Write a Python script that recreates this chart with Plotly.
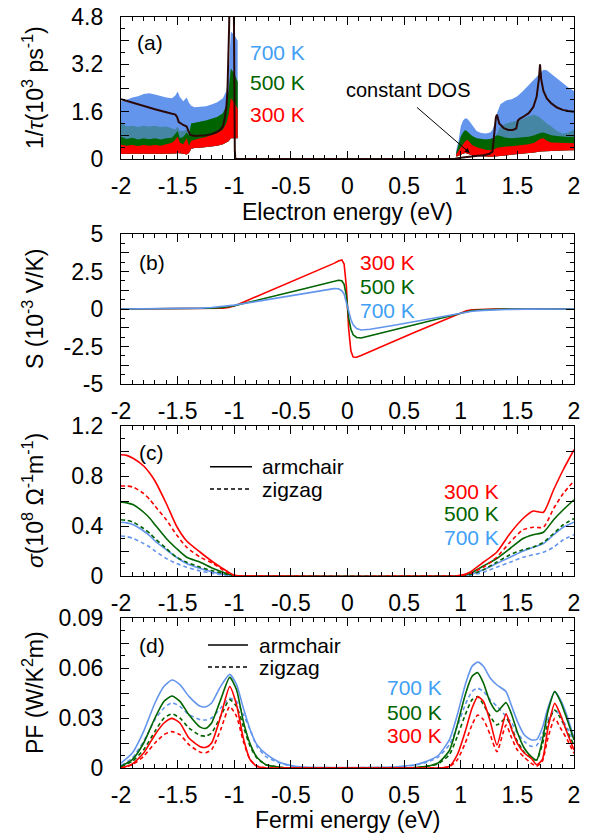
import plotly.graph_objects as go

# ---------------- data ----------------
# x tick labels
x_tickvals = [-2, -1.5, -1, -0.5, 0, 0.5, 1, 1.5, 2]
x_ticktext = ["-2", "-1.5", "-1", "-0.5", "0", "0.5", "1", "1.5", "2"]

ya_tickvals = [0, 0.8, 1.6, 2.4, 3.2, 4.0, 4.8]
ya_ticktext = ["0", "", "1.6", "", "3.2", "", "4.8"]
yb_tickvals = [-5, -3.75, -2.5, -1.25, 0, 1.25, 2.5, 3.75, 5]
yb_ticktext = ["-5", "", "-2.5", "", "0", "", "2.5", "", "5"]
yc_tickvals = [0, 0.2, 0.4, 0.6, 0.8, 1.0, 1.2]
yc_ticktext = ["0", "", "0.4", "", "0.8", "", "1.2"]
yd_tickvals = [0, 0.015, 0.03, 0.045, 0.06, 0.075, 0.09]
yd_ticktext = ["0", "", "0.03", "", "0.06", "", "0.09"]

# (a) scattering-rate bands, left (valence) side
xl = [-2.0, -1.95, -1.9, -1.85, -1.8, -1.75, -1.7, -1.65, -1.6, -1.55, -1.52, -1.5, -1.48, -1.45,
      -1.42, -1.4, -1.38, -1.35, -1.3, -1.25, -1.2, -1.15, -1.1, -1.07, -1.05, -1.03, -1.0, -0.97]
blue_up_l = [1.95, 2.0, 2.08, 2.12, 2.2, 2.22, 2.18, 2.12, 2.08, 2.05, 2.15, 2.28, 2.1, 1.95,
             2.08, 1.9, 1.8, 1.75, 1.76, 1.78, 1.84, 1.92, 2.05, 2.3, 2.8, 4.3, 4.2, 4.0]
speck_up_l = [1.25, 1.1, 1.12, 1.08, 1.12, 1.1, 1.12, 1.08, 1.1, 1.05, 1.0, 1.1, 0.95, 0.95,
              1.0, 0.95, 1.2, 1.22, 1.25, 1.3, 1.36, 1.42, 1.55, 1.8, 2.3, 3.05, 2.9, 2.6]
green_up_l = [0.75, 0.68, 0.72, 0.66, 0.7, 0.67, 0.7, 0.66, 0.7, 0.72, 0.85, 0.95, 0.7, 0.75,
              0.9, 0.8, 1.2, 1.22, 1.25, 1.3, 1.36, 1.42, 1.55, 1.8, 2.3, 3.05, 2.9, 2.6]
red_up_l = [0.48, 0.45, 0.47, 0.44, 0.47, 0.45, 0.47, 0.45, 0.5, 0.55, 0.65, 0.75, 0.55, 0.5,
            0.7, 0.45, 0.62, 0.66, 0.7, 0.74, 0.8, 0.88, 1.0, 1.2, 1.5, 2.05, 1.9, 1.7]
band_low_l = [0.17, 0.18, 0.18, 0.17, 0.18, 0.18, 0.17, 0.18, 0.18, 0.18, 0.19, 0.2, 0.2, 0.18,
              0.15, 0.2, 0.35, 0.37, 0.38, 0.4, 0.42, 0.45, 0.5, 0.55, 0.6, 0.7, 0.7, 0.7]

# (a) bands, right (conduction) side
xr = [0.96, 0.98, 1.0, 1.02, 1.04, 1.06, 1.08, 1.1, 1.14, 1.18, 1.22, 1.26, 1.28, 1.3, 1.32,
      1.35, 1.4, 1.45, 1.5, 1.55, 1.6, 1.65, 1.7, 1.73, 1.76, 1.8, 1.85, 1.9, 1.95, 2.0]
blue_up_r = [0.3, 0.6, 1.1, 1.3, 1.38, 1.35, 1.26, 1.15, 0.95, 0.88, 0.86, 0.9, 0.98, 1.2, 1.55,
             1.85, 1.98, 2.02, 2.12, 2.3, 2.5, 2.7, 2.9, 3.02, 3.0, 2.88, 2.72, 2.55, 2.42, 2.3]
speck_up_r = [0.2, 0.5, 0.75, 0.9, 0.98, 0.92, 0.85, 0.78, 0.7, 0.67, 0.66, 0.68, 0.7, 0.75, 0.85,
              1.1, 1.2, 1.25, 1.3, 1.35, 1.45, 1.5, 1.4, 1.3, 1.2, 1.1, 0.95, 0.85, 0.9, 1.0]
green_up_r = [0.2, 0.5, 0.75, 0.9, 0.98, 0.92, 0.85, 0.78, 0.7, 0.67, 0.66, 0.68, 0.7, 0.75, 0.8,
              0.78, 0.72, 0.7, 0.72, 0.72, 0.75, 0.8, 0.88, 0.9, 0.85, 0.8, 0.78, 0.75, 0.74, 0.75]
red_up_r = [0.15, 0.3, 0.4, 0.5, 0.6, 0.65, 0.55, 0.47, 0.4, 0.35, 0.31, 0.3, 0.31, 0.34, 0.38,
            0.4, 0.42, 0.43, 0.45, 0.46, 0.5, 0.55, 0.68, 0.7, 0.62, 0.56, 0.55, 0.54, 0.53, 0.53]
band_low_r = [0.08, 0.1, 0.15, 0.18, 0.2, 0.18, 0.15, 0.13, 0.1, 0.09, 0.08, 0.08, 0.08, 0.09, 0.1,
              0.11, 0.12, 0.13, 0.15, 0.17, 0.2, 0.22, 0.25, 0.26, 0.27, 0.27, 0.28, 0.29, 0.3, 0.3]

# (a) constant-DOS curve
dos_x = [-2.0, -1.9, -1.8, -1.7, -1.6, -1.52, -1.505, -1.49, -1.45, -1.42, -1.405, -1.39, -1.35,
         -1.3, -1.25, -1.2, -1.15, -1.12, -1.1, -1.085, -1.07, -1.06, -1.05, -1.045, -1.04, -1.02,
         -1.005, -1.0, -0.995, -0.99, 0.9, 0.95, 1.0, 1.05, 1.1, 1.15, 1.2, 1.25, 1.28, 1.295, 1.31,
         1.32, 1.34, 1.38, 1.42, 1.46, 1.49, 1.505, 1.52, 1.55, 1.6, 1.64, 1.67, 1.69, 1.70, 1.71,
         1.73, 1.76, 1.8, 1.85, 1.9, 1.95, 2.0]
dos_y = [2.02, 1.9, 1.78, 1.68, 1.58, 1.5, 1.42, 1.25, 1.15, 1.1, 0.95, 0.82, 0.78,
         0.78, 0.8, 0.84, 0.92, 1.0, 1.1, 1.35, 1.75, 2.3, 3.5, 4.5, 6.0, 8.0,
         6.0, 2.0, 0.3, 0.0, 0.0, 0.01, 0.04, 0.07, 0.09, 0.11, 0.13, 0.17, 0.25, 0.8, 1.4,
         1.5, 1.2, 1.04, 0.98, 0.98, 1.03, 1.3, 1.36, 1.42, 1.55, 1.75, 2.1, 2.7, 3.2, 2.7,
         2.3, 2.05, 1.88, 1.74, 1.66, 1.62, 1.6]

# (b) Seebeck coefficient
s_x = [-2.0, -1.6, -1.4, -1.3, -1.2, -1.1, -1.05, -1.0, -0.9, -0.8, -0.6, -0.4, -0.2, -0.12,
       -0.08, -0.05, -0.03, -0.01, 0.01, 0.03, 0.05, 0.08, 0.12, 0.2, 0.4, 0.6, 0.8, 0.9, 1.0,
       1.05, 1.1, 1.2, 1.3, 1.4, 1.6, 2.0]
s_300 = [0, 0, 0, 0, 0.01, 0.05, 0.1, 0.2, 0.52, 0.84, 1.49, 2.13, 2.78, 3.04,
         3.2, 3.27, 3.0, 1.5, -1.3, -2.8, -3.2, -3.22, -3.1, -2.83, -2.19, -1.54, -0.89, -0.57, -0.24,
         -0.12, -0.05, -0.01, 0, 0, 0, 0]
s_500 = [0, 0, 0.005, 0.02, 0.05, 0.1, 0.15, 0.22, 0.4, 0.57, 0.95, 1.32, 1.7, 1.85,
         1.92, 1.88, 1.65, 0.9, -0.6, -1.35, -1.72, -1.9, -1.93, -1.78, -1.4, -1.02, -0.63, -0.43, -0.24,
         -0.16, -0.1, -0.05, -0.02, -0.005, 0, 0]
s_700 = [0, 0.01, 0.03, 0.06, 0.1, 0.17, 0.21, 0.26, 0.38, 0.5, 0.75, 1.0, 1.25, 1.36,
         1.35, 1.22, 1.0, 0.45, -0.25, -0.7, -1.05, -1.3, -1.4, -1.35, -1.1, -0.83, -0.55, -0.41, -0.27,
         -0.2, -0.15, -0.09, -0.05, -0.03, -0.01, 0]

# (c) electrical conductivity
c_x = [-2.0, -1.95, -1.89, -1.8, -1.744, -1.7, -1.6, -1.51, -1.42, -1.3, -1.185, -1.067, -1.0,
       -0.95, 0.95, 1.0, 1.08, 1.2, 1.317, 1.435, 1.55, 1.64, 1.73, 1.82, 1.905, 2.0]
c_300_arm = [0.97, 0.965, 0.94, 0.88, 0.82, 0.76, 0.58, 0.40, 0.28, 0.19, 0.11, 0.04, 0.005,
             0, 0, 0.005, 0.03, 0.11, 0.19, 0.34, 0.46, 0.52, 0.51, 0.69, 0.85, 1.01]
c_300_zig = [0.72, 0.72, 0.71, 0.66, 0.61, 0.56, 0.45, 0.33, 0.23, 0.15, 0.10, 0.03, 0.005,
             0, 0, 0.004, 0.02, 0.07, 0.15, 0.27, 0.37, 0.39, 0.39, 0.54, 0.66, 0.76]
c_500_arm = [0.59, 0.585, 0.57, 0.51, 0.46, 0.41, 0.30, 0.22, 0.15, 0.11, 0.06, 0.02, 0.003,
             0, 0, 0.003, 0.02, 0.08, 0.14, 0.22, 0.30, 0.33, 0.35, 0.45, 0.53, 0.61]
c_500_zig = [0.45, 0.445, 0.43, 0.38, 0.34, 0.30, 0.22, 0.15, 0.11, 0.07, 0.04, 0.015, 0.002,
             0, 0, 0.002, 0.01, 0.05, 0.11, 0.17, 0.21, 0.23, 0.27, 0.34, 0.41, 0.46]
c_700_arm = [0.43, 0.425, 0.41, 0.36, 0.32, 0.28, 0.21, 0.15, 0.10, 0.06, 0.03, 0.01, 0.002,
             0, 0, 0.002, 0.01, 0.05, 0.10, 0.15, 0.20, 0.23, 0.26, 0.33, 0.39, 0.43]
c_700_zig = [0.32, 0.315, 0.30, 0.26, 0.23, 0.20, 0.14, 0.10, 0.07, 0.04, 0.02, 0.005, 0.001,
             0, 0, 0.001, 0.005, 0.03, 0.07, 0.11, 0.15, 0.17, 0.19, 0.23, 0.29, 0.33]

# (d) power factor
p_x = [-2.0, -1.9, -1.8, -1.7, -1.62, -1.55, -1.48, -1.4, -1.3, -1.25, -1.2, -1.12, -1.04, -0.98,
       -0.92, -0.86, -0.8, -0.72, -0.6, -0.5, -0.4, 0.4, 0.5, 0.6, 0.7, 0.8, 0.9, 0.97, 1.04, 1.1,
       1.15, 1.2, 1.26, 1.32, 1.4, 1.45, 1.5, 1.56, 1.62, 1.67, 1.72, 1.77, 1.83, 1.88, 1.94, 2.0]
p_700_arm = [0.003, 0.009, 0.022, 0.039, 0.049, 0.0528, 0.050, 0.043, 0.037, 0.0368, 0.039, 0.049,
             0.0562, 0.050, 0.036, 0.023, 0.014, 0.0085, 0.0035, 0.0015, 0.0005, 0.0005, 0.0012,
             0.002, 0.004, 0.0075, 0.017, 0.032, 0.050, 0.061, 0.0635, 0.061, 0.054, 0.0498, 0.0458,
             0.037, 0.028, 0.020, 0.017, 0.017, 0.024, 0.036, 0.0458, 0.041, 0.031, 0.0178]
p_700_zig = [0.0015, 0.006, 0.016, 0.029, 0.036, 0.0392, 0.037, 0.032, 0.029, 0.0288, 0.030, 0.036,
             0.0418, 0.040, 0.032, 0.023, 0.013, 0.0068, 0.003, 0.0012, 0.0004, 0.0004, 0.001,
             0.0018, 0.0035, 0.0065, 0.014, 0.025, 0.038, 0.046, 0.0478, 0.046, 0.041, 0.037, 0.031,
             0.027, 0.021, 0.016, 0.013, 0.0135, 0.020, 0.029, 0.0348, 0.031, 0.024, 0.0168]
p_500_arm = [0.001, 0.005, 0.015, 0.030, 0.040, 0.0432, 0.040, 0.032, 0.0245, 0.0238, 0.027, 0.041,
             0.0544, 0.047, 0.028, 0.0145, 0.0065, 0.002, 0.0005, 0, 0, 0, 0,
             0.0003, 0.001, 0.003, 0.0105, 0.026, 0.044, 0.055, 0.0572, 0.051, 0.0395, 0.0338, 0.0392,
             0.032, 0.0215, 0.012, 0.007, 0.0048, 0.0165, 0.034, 0.0458, 0.040, 0.029, 0.0168]
p_500_zig = [0.0008, 0.004, 0.011, 0.022, 0.030, 0.0324, 0.030, 0.024, 0.0195, 0.0192, 0.021, 0.031,
             0.041, 0.037, 0.025, 0.013, 0.006, 0.002, 0.0005, 0, 0, 0, 0,
             0.0003, 0.001, 0.0025, 0.008, 0.019, 0.032, 0.041, 0.0428, 0.038, 0.031, 0.0258, 0.0298,
             0.024, 0.016, 0.0095, 0.006, 0.0048, 0.014, 0.027, 0.0348, 0.030, 0.022, 0.0138]
p_300_arm = [0.0, 0.0025, 0.009, 0.020, 0.027, 0.0298, 0.027, 0.018, 0.0128, 0.0124, 0.015, 0.031,
             0.0488, 0.038, 0.018, 0.005, 0.001, 0, 0, 0, 0, 0, 0,
             0, 0, 0, 0.001, 0.008, 0.022, 0.036, 0.0428, 0.040, 0.028, 0.0138, 0.0325,
             0.023, 0.0148, 0.009, 0.006, 0.002, 0.005, 0.024, 0.0388, 0.032, 0.021, 0.0108]
p_300_zig = [0.0, 0.002, 0.007, 0.015, 0.020, 0.0218, 0.020, 0.014, 0.0095, 0.0092, 0.011, 0.023,
             0.0368, 0.031, 0.016, 0.005, 0.0012, 0, 0, 0, 0, 0, 0,
             0, 0, 0, 0.0008, 0.005, 0.015, 0.026, 0.0318, 0.029, 0.020, 0.0098, 0.0258,
             0.018, 0.0108, 0.0065, 0.003, 0.001, 0.004, 0.018, 0.0298, 0.024, 0.017, 0.0088]

# ---------------- style ----------------
RED = "#ff0000"
GREEN = "#006400"
BLUE = "#6495ed"
BLUE_TXT = "#3fa0f5"
FONT = "Liberation Sans"
FS = 21
TFS = 23
DASH = "4px,3px"

fig = go.Figure()


def band(xs, up, low, color, xa, ya):
    fig.add_trace(go.Scatter(x=xs + xs[::-1], y=up + low[::-1], fill="toself", fillcolor=color,
                             mode="lines", line=dict(width=0), hoverinfo="skip",
                             xaxis=xa, yaxis=ya, showlegend=False))


def line(xs, ys, color, xa, ya, dash="solid", shape="spline"):
    fig.add_trace(go.Scatter(x=xs, y=ys, mode="lines",
                             line=dict(color=color, width=1.6, dash=dash, shape=shape, smoothing=0.6),
                             xaxis=xa, yaxis=ya, showlegend=False, hoverinfo="skip"))


# panel (a)
for xs, up, sp, gu, ru, lo in [(xl, blue_up_l, speck_up_l, green_up_l, red_up_l, band_low_l),
                               (xr, blue_up_r, speck_up_r, green_up_r, red_up_r, band_low_r)]:
    band(xs, up, lo, BLUE, "x", "y")
    band(xs, sp, lo, "rgba(0,100,0,0.3)", "x", "y")
    band(xs, gu, lo, GREEN, "x", "y")
    band(xs, ru, lo, RED, "x", "y")
fig.add_trace(go.Scatter(x=dos_x, y=dos_y, mode="lines", line=dict(color="#2a0808", width=2),
                         xaxis="x", yaxis="y", showlegend=False, hoverinfo="skip"))

# panel (b)
line(s_x, s_300, RED, "x2", "y2", shape="linear")
line(s_x, s_500, GREEN, "x2", "y2", shape="linear")
line(s_x, s_700, BLUE, "x2", "y2", shape="linear")

# panel (c)
for ys, col, dash in [(c_700_zig, BLUE, DASH), (c_700_arm, BLUE, "solid"),
                      (c_500_zig, GREEN, DASH), (c_500_arm, GREEN, "solid"),
                      (c_300_zig, RED, DASH), (c_300_arm, RED, "solid")]:
    line(c_x, ys, col, "x3", "y3", dash=dash)

# panel (d)
for ys, col, dash in [(p_700_zig, BLUE, DASH), (p_700_arm, BLUE, "solid"),
                      (p_500_zig, GREEN, DASH), (p_500_arm, GREEN, "solid"),
                      (p_300_zig, RED, DASH), (p_300_arm, RED, "solid")]:
    line(p_x, ys, col, "x4", "y4", dash=dash)

# ---------------- axes ----------------
L, R, T, B = 121, 17, 17, 68
W, H = 591, 836
ph = H - T - B


def dom(top_px, bot_px):
    return [1 - (bot_px - T) / ph, 1 - (top_px - T) / ph]


domains = [dom(17, 159), dom(234, 384), dom(426, 576), dom(618, 768)]

xcommon = dict(range=[-2, 2], tickmode="array", tickvals=x_tickvals, ticktext=x_ticktext,
               showline=True, linecolor="black", linewidth=1.3, mirror="allticks",
               ticks="inside", ticklen=8, tickwidth=1.2, tickcolor="black",
               showgrid=False, zeroline=False, ticklabelstandoff=6, automargin=False,
               tickfont=dict(size=TFS, color="black", family=FONT),
               minor=dict(ticks="inside", ticklen=4, tickwidth=1, tickcolor="black",
                          dtick=0.1, tick0=0, showgrid=False))


def ycommon(rng, tv, tt, mdt):
    return dict(range=rng, tickmode="array", tickvals=tv, ticktext=tt,
                showline=True, linecolor="black", linewidth=1.3, mirror="allticks",
                ticks="inside", ticklen=8, tickwidth=1.2, tickcolor="black",
                showgrid=False, zeroline=False, ticklabelstandoff=12, automargin=False,
                tickfont=dict(size=TFS, color="black", family=FONT),
                minor=dict(ticks="inside", ticklen=4, tickwidth=1, tickcolor="black",
                           dtick=mdt, tick0=0, showgrid=False))


layout = dict(template="none", width=W, height=H, margin=dict(l=L, r=R, t=T, b=B, pad=0),
              autosize=False, paper_bgcolor="white", plot_bgcolor="white",
              font=dict(family=FONT, size=FS, color="black"), showlegend=False)
yspecs = [([0, 4.8], ya_tickvals, ya_ticktext, 0.4),
          ([-5, 5], yb_tickvals, yb_ticktext, 0.625),
          ([0, 1.2], yc_tickvals, yc_ticktext, 0.1),
          ([0, 0.09], yd_tickvals, yd_ticktext, 0.0075)]
for i in range(4):
    sx = "" if i == 0 else str(i + 1)
    layout["xaxis" + sx] = dict(xcommon, anchor="y" + sx)
    yc = ycommon(*yspecs[i])
    yc.update(domain=domains[i], anchor="x" + sx)
    layout["yaxis" + sx] = yc
fig.update_layout(**layout)

# ---------------- annotations ----------------
ann = []


def txt(text, x, y, xref, yref, color="black", xanchor="left", size=FS, angle=0):
    ann.append(dict(text=text, x=x, y=y, xref=xref, yref=yref, showarrow=False, xanchor=xanchor,
                    yanchor="middle", textangle=angle,
                    font=dict(size=size, color=color, family=FONT)))


ytitles = ["1/<i>τ</i>(10<sup>3</sup> ps<sup>-1</sup>)", "S (10<sup>-3</sup> V/K)",
           "<i>σ</i>(10<sup>8</sup> Ω<sup>-1</sup>m<sup>-1</sup>)", "PF (W/K<sup>2</sup>m)"]
for i, t in enumerate(ytitles):
    sy = "y" if i == 0 else "y" + str(i + 1)
    txt(t, (33 - L) / (W - L - R), 0.5, "paper", sy + " domain", xanchor="center", size=23, angle=-90)

txt("Electron energy (eV)", 0.5, -(212 - 159) / 142, "x domain", "y domain", xanchor="center", size=TFS)
txt("Fermi energy (eV)", 0.5, -(820 - 768) / 150, "x4 domain", "y4 domain", xanchor="center", size=TFS)

# panel (a)
txt("(a)", -1.876, 3.95, "x", "y")
txt("700 K", -0.879, 3.61, "x", "y", color=BLUE_TXT)
txt("500 K", -0.879, 2.6, "x", "y", color=GREEN)
txt("300 K", -0.879, 1.49, "x", "y", color=RED)
txt("constant DOS", -0.03, 2.33, "x", "y", size=20)
ann.append(dict(x=1.08, y=0.2, ax=0.6, ay=1.79, xref="x", yref="y", axref="x", ayref="y",
                text="", showarrow=True, arrowhead=2, arrowsize=1, arrowwidth=1, arrowcolor="black"))

# panel (b)
txt("(b)", -1.86, 3.07, "x2", "y2")
txt("300 K", 0.093, 3.07, "x2", "y2", color=RED)
txt("500 K", 0.093, 1.47, "x2", "y2", color=GREEN)
txt("700 K", 0.093, -0.07, "x2", "y2", color=BLUE_TXT)

# panel (c)
txt("(c)", -1.86, 0.992, "x3", "y3")
txt("armchair", -0.773, 0.874, "x3", "y3")
txt("zigzag", -0.773, 0.696, "x3", "y3")
txt("300 K", 0.832, 0.68, "x3", "y3", color=RED)
txt("500 K", 0.832, 0.504, "x3", "y3", color=GREEN)
txt("700 K", 0.832, 0.312, "x3", "y3", color=BLUE_TXT)

# panel (d)
txt("(d)", -1.86, 0.0738, "x4", "y4")
txt("armchair", -0.799, 0.0738, "x4", "y4")
txt("zigzag", -0.799, 0.0606, "x4", "y4")
txt("700 K", 0.331, 0.0486, "x4", "y4", color=BLUE_TXT)
txt("500 K", 0.331, 0.0336, "x4", "y4", color=GREEN)
txt("300 K", 0.331, 0.0198, "x4", "y4", color=RED)
fig.update_layout(annotations=ann)

# legend sample lines (c) and (d)
shapes = [
    dict(type="line", x0=-1.214, x1=-0.843, y0=0.874, y1=0.874, xref="x3", yref="y3",
         line=dict(color="black", width=1.5)),
    dict(type="line", x0=-1.214, x1=-0.843, y0=0.696, y1=0.696, xref="x3", yref="y3",
         line=dict(color="black", width=1.5, dash=DASH)),
    dict(type="line", x0=-1.232, x1=-0.879, y0=0.0738, y1=0.0738, xref="x4", yref="y4",
         line=dict(color="black", width=1.5)),
    dict(type="line", x0=-1.232, x1=-0.879, y0=0.0606, y1=0.0606, xref="x4", yref="y4",
         line=dict(color="black", width=1.5, dash=DASH)),
]
fig.update_layout(shapes=shapes)

fig.write_html("out.html", config={"displayModeBar": False},
               post_script="document.body.style.margin='0px';document.body.style.overflow='hidden';")
